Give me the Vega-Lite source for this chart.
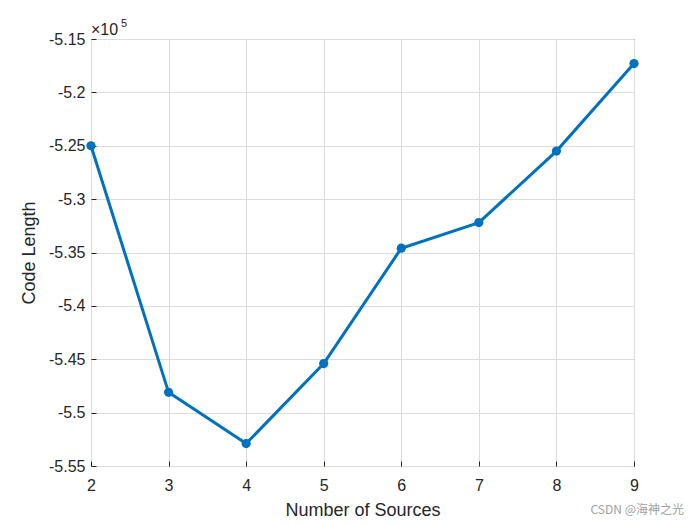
{
  "$schema": "https://vega.github.io/schema/vega-lite/v6.json",
  "width": 543,
  "height": 427,
  "autosize": "none",
  "padding": {"left": 91, "top": 39, "right": 66, "bottom": 59},
  "background": "white",
  "config": {
    "font": "Liberation Sans",
    "view": {"stroke": "#262626", "strokeWidth": 1}
  },
  "title": {
    "text": "CSDN @海神之光",
    "orient": "bottom",
    "anchor": "end",
    "fontSize": 12,
    "fontWeight": "normal",
    "color": "#a0a0a0",
    "font": "Noto Sans CJK SC",
    "offset": -14,
    "dx": 44
  },
  "data": {
    "values": [
      {"sources": 2, "length": -525000},
      {"sources": 3, "length": -548100},
      {"sources": 4, "length": -552900},
      {"sources": 5, "length": -545400},
      {"sources": 6, "length": -534600},
      {"sources": 7, "length": -532200},
      {"sources": 8, "length": -525500},
      {"sources": 9, "length": -517300}
    ]
  },
  "layer": [
    {
      "mark": {"type": "line", "color": "#0072BD", "strokeWidth": 3, "point": {"filled": true, "size": 85, "color": "#0072BD", "opacity": 1}},
      "encoding": {
        "x": {
          "field": "sources", "type": "quantitative",
          "scale": {"domain": [2, 9], "nice": false, "zero": false},
          "axis": {
            "values": [2, 3, 4, 5, 6, 7, 8, 9],
            "format": "d",
            "title": "Number of Sources",
            "titleFontSize": 18, "titleFontWeight": "normal", "titleColor": "#262626",
            "titlePadding": 8,
            "labelFontSize": 16, "labelColor": "#262626", "labelPadding": 16,
            "labelFlush": false,
            "tickSize": -5, "tickColor": "#262626",
            "domain": false,
            "grid": true, "gridColor": "#dcdcdc"
          }
        },
        "y": {
          "field": "length", "type": "quantitative",
          "scale": {"domain": [-555000, -515000], "nice": false, "zero": false},
          "axis": {
            "values": [-555000, -550000, -545000, -540000, -535000, -530000, -525000, -520000, -515000],
            "labelExpr": "round(datum.value/1000)/100 + ''",
            "title": "Code Length",
            "titleFontSize": 18, "titleFontWeight": "normal", "titleColor": "#262626",
            "titlePadding": 10,
            "labelFontSize": 16, "labelColor": "#262626", "labelPadding": 11,
            "labelFlush": false,
            "tickSize": -5, "tickColor": "#262626",
            "domain": false,
            "grid": true, "gridColor": "#dcdcdc"
          }
        }
      }
    },
    {
      "data": {"values": [{"label": "×10"}]},
      "mark": {"type": "text", "align": "left", "baseline": "alphabetic", "fontSize": 16, "color": "#262626", "dy": -4, "dx": 0},
      "encoding": {
        "x": {"datum": 2},
        "y": {"datum": -515000},
        "text": {"field": "label"}
      }
    },
    {
      "data": {"values": [{"label": "5"}]},
      "mark": {"type": "text", "align": "left", "baseline": "alphabetic", "fontSize": 11, "color": "#262626", "dy": -12, "dx": 30},
      "encoding": {
        "x": {"datum": 2},
        "y": {"datum": -515000},
        "text": {"field": "label"}
      }
    }
  ]
}
